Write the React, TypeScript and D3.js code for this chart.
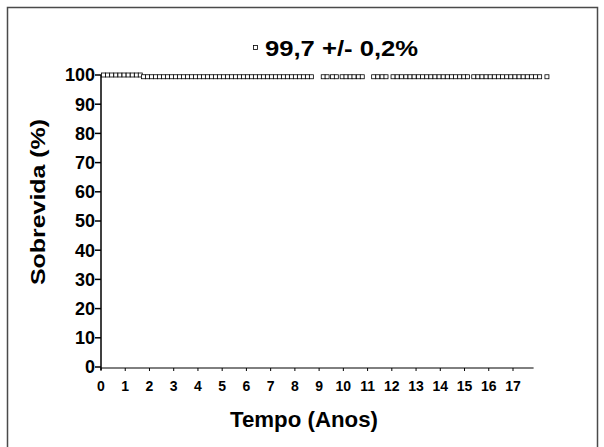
import * as d3 from "d3";

// survival curve (Kaplan-Meier step) and censored observations
const stepTimes = [0, 1.7, 18.4];
const stepValues = [100, 99.4, 99.4];

const censorTimes = [
  0.1, 0.27, 0.44, 0.61, 0.78, 0.95, 1.12, 1.29, 1.46, 1.62,
  1.75, 1.92, 2.08, 2.25, 2.41, 2.58, 2.74, 2.91, 3.07, 3.24, 3.4, 3.57, 3.73, 3.9,
  4.06, 4.23, 4.39, 4.56, 4.72, 4.89, 5.05, 5.22, 5.38, 5.55, 5.71, 5.88, 6.04, 6.21,
  6.37, 6.54, 6.7, 6.87, 7.03, 7.2, 7.36, 7.53, 7.69, 7.86, 8.02, 8.19, 8.35, 8.52, 8.68,
  9.17, 9.33, 9.55, 9.71, 9.95, 10.11, 10.28, 10.44, 10.62, 10.78,
  11.25, 11.42, 11.6, 11.76,
  12.05, 12.22, 12.4, 12.58, 12.75, 12.92,
  13.1, 13.27, 13.44, 13.61, 13.78, 13.95, 14.12, 14.29, 14.46, 14.63, 14.8, 14.97, 15.12,
  15.38, 15.55, 15.72, 15.89, 16.06, 16.23, 16.4, 16.57, 16.74, 16.91, 17.08, 17.25,
  17.42, 17.59, 17.76, 17.93, 18.1,
  18.4,
];

const xTicks = d3.range(0, 18);
const yTicks = [0, 10, 20, 30, 40, 50, 60, 70, 80, 90, 100];
const titleText = "99,7 +/- 0,2%";
const xTitle = "Tempo (Anos)";
const yTitle = "Sobrevida (%)";

const W = 604;
const H = 447;
const FONT = "'Liberation Sans', Arial, sans-serif";

function survivalAt(t: number): number {
  let v = stepValues[0];
  for (let i = 0; i < stepTimes.length; i++) if (t >= stepTimes[i]) v = stepValues[i];
  return v;
}

export default function App() {
  const x = d3.scaleLinear().domain([0, 17]).range([101, 513]);
  const y = d3.scaleLinear().domain([0, 100]).range([367, 75]);
  const xEnd = x(17.85);

  // only the 100% plateau shows as a line; after the drop the marks hide it
  const line = d3
    .line<number>()
    .x((t) => x(t))
    .y(() => y(stepValues[0]));

  const sq = 4;

  return (
    <svg
      width={W}
      height={H}
      style={{ position: "absolute", left: 0, top: 0, background: "#fff" }}
      fontFamily={FONT}
    >
      <rect x={7.5} y={7.5} width={590} height={470} fill="none" stroke="#4a4a4a" strokeWidth={1.5} />

      {/* title with legend marker */}
      <rect x={253.5} y={45.5} width={4} height={4} fill="#fff" stroke="#000" strokeWidth={0.8} />
      <text x={265} y={56} fontSize={22} fontWeight="bold" textLength={153} lengthAdjust="spacingAndGlyphs">
        {titleText}
      </text>

      {/* y axis */}
      <line x1={x(0)} x2={x(0)} y1={y(100)} y2={y(0) + 3} stroke="#000" strokeWidth={1.5} />
      {yTicks.map((t) => (
        <g key={t}>
          <line x1={x(0) - 6} x2={x(0)} y1={y(t)} y2={y(t)} stroke="#000" strokeWidth={1.5} />
          <text
            x={x(0) - 6}
            y={y(t)}
            dy="0.36em"
            textAnchor="end"
            fontSize={18}
            fontWeight="bold"
          >
            {t}
          </text>
        </g>
      ))}

      {/* x axis */}
      <line x1={x(0)} x2={xEnd} y1={y(0) + 1} y2={y(0) + 1} stroke="#000" strokeWidth={1} />
      {xTicks.map((t) => (
        <g key={t}>
          <line x1={x(t)} x2={x(t)} y1={y(0) + 1} y2={y(0) + 4} stroke="#000" strokeWidth={1} />
          <text x={x(t)} y={391} textAnchor="middle" fontSize={14} fontWeight="bold">
            {t}
          </text>
        </g>
      ))}

      <text x={304} y={427} textAnchor="middle" fontSize={22} fontWeight="bold" textLength={148} lengthAdjust="spacingAndGlyphs">
        {xTitle}
      </text>
      <text
        transform={`translate(45,${202}) rotate(-90)`}
        textAnchor="middle"
        fontSize={21}
        fontWeight="bold"
        textLength={166}
        lengthAdjust="spacingAndGlyphs"
      >
        {yTitle}
      </text>

      {/* survival curve */}
      <path d={line(stepTimes.slice(0, 2)) ?? ""} fill="none" stroke="#000" strokeWidth={1} />
      {censorTimes.map((t, i) => (
        <rect
          key={i}
          x={x(t) - sq / 2}
          y={y(survivalAt(t)) - sq / 2}
          width={sq}
          height={sq}
          fill="#fff"
          stroke="#000"
          strokeWidth={0.8}
        />
      ))}
    </svg>
  );
}
